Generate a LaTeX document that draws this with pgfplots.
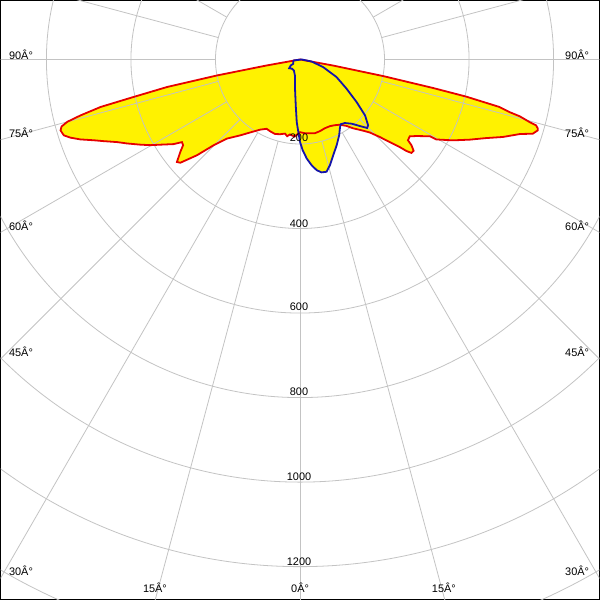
\documentclass[border=0pt]{standalone}
\usepackage{fontspec}
\setmainfont{Liberation Sans}
\usepackage{pgfplots}
\pgfplotsset{compat=1.18}
\usepackage{pgfplotstable}

\definecolor{gridc}{RGB}{195,195,195}
\definecolor{redc}{RGB}{230,0,0}
\definecolor{bluec}{RGB}{20,20,170}

% C0-C180 plane: signed gamma (negative = left), intensity in cd
\pgfplotstableread{
g cd
-90 0
-79.8 80
-79.1 200
-78.3 321
-77.3 404
-76.6 485
-75.7 536
-75.0 570
-74.3 586
-73.5 591
-72.2 587
-71.2 574
-70.0 553
-68.6 524
-67.4 503
-65.7 475
-64.1 455
-61.9 428
-60.2 408
-58.6 387
-56.2 360
-55.0 341
-53.75 343
-52.3 358
-50.2 379
-49.2 374
-47.1 333
-45.2 288
-42.75 255
-38.3 229
-33.6 206
-29.6 191
-25.7 182
-22.7 184
-18.5 186
-14.9 183
-11.4 179
-9.5 184
-7.6 179
-4.0 183
-1.3 175
0 172
3.9 175
7.7 176
11.5 178
15.6 176
19.9 173
24.2 173
27.9 176
31.5 181
35.0 192
37.5 205
41.0 222
43.7 239
45.8 263
47.4 289
48.7 314
49.3 332
50.0 344
51.2 345
52.4 333
53.2 319
55.0 317
56.7 330
59.4 357
59.6 374
62.1 409
64.7 444
67.1 478
69.1 514
71.3 550
72.3 578
73.4 587
73.8 586
74.4 580
74.75 563
75.5 537
75.9 511
76.6 485
77.4 403
77.9 322
78.7 201
79.6 80
90 0
}\redtab

% C90-C270 plane
\pgfplotstableread{
g cd
-81.5 16
-57.3 19
-57.2 26
-50.9 33
-41.7 29
-28.6 30
-17.4 40
-9.7 70
-5.3 109
-3.0 148
-1.3 172
0 195
1.7 215
3.9 235
6.3 252
8.6 265
10.8 272
13.3 273
15.8 260
19.1 240
23.1 221
27.3 202
30.6 186
32.2 181
35.2 184
38.8 195
42.0 212
44.4 227
46.0 224
49.3 203
53.0 168
57.9 130
64.25 96
71.7 58
80 28
90 4
-81.5 16
}\bluetab

\begin{document}
\begin{tikzpicture}
\begin{axis}[
  scale only axis, width=600bp, height=600bp,
  xmin=-708.4, xmax=708.4, ymin=-1277.5, ymax=139.3,
  ticks=none,
  axis line style={black, line width=1.2bp},
  clip=true,
]
\addplot[fill=yellow, draw=none, data cs=polar] table[x expr=\thisrow{g}-90, y=cd]{\redtab};
\addplot[fill=yellow, draw=none, data cs=polar] table[x expr=\thisrow{g}-90, y=cd]{\bluetab};
\pgfplotsinvokeforeach{200,400,...,1400}{
  \draw[gridc, line width=0.8bp] (axis cs:0,0) circle[radius=#1];
}
\pgfplotsinvokeforeach{0,15,...,345}{
  \draw[gridc, line width=0.8bp] (axis cs:{200*cos(#1)},{200*sin(#1)}) -- (axis cs:{1700*cos(#1)},{1700*sin(#1)});
}
\addplot[redc, line width=1.8bp, data cs=polar] table[x expr=\thisrow{g}-90, y=cd]{\redtab};
\addplot[bluec, line width=1.8bp, data cs=polar] table[x expr=\thisrow{g}-90, y=cd]{\bluetab};

\begin{scope}[every node/.style={font=\fontsize{11}{13}\selectfont, inner sep=0pt}]
\node[anchor=base west] at (rel axis cs:0.01383,0.90167) {90Â°};
\node[anchor=base west] at (rel axis cs:0.9425,0.90167) {90Â°};
\node[anchor=base west] at (rel axis cs:0.01383,0.77117) {75Â°};
\node[anchor=base west] at (rel axis cs:0.9425,0.77117) {75Â°};
\node[anchor=base west] at (rel axis cs:0.01383,0.61667) {60Â°};
\node[anchor=base west] at (rel axis cs:0.9425,0.61667) {60Â°};
\node[anchor=base west] at (rel axis cs:0.01383,0.405) {45Â°};
\node[anchor=base west] at (rel axis cs:0.9425,0.405) {45Â°};
\node[anchor=base west] at (rel axis cs:0.01383,0.04) {30Â°};
\node[anchor=base west] at (rel axis cs:0.9425,0.04) {30Â°};
\node[anchor=base west] at (rel axis cs:0.2375,0.01167) {15Â°};
\node[anchor=base west] at (rel axis cs:0.485,0.01167) {0Â°};
\node[anchor=base west] at (rel axis cs:0.72,0.01167) {15Â°};
\node[anchor=base] at (rel axis cs:0.49833,0.76417) {200};
\node[anchor=base] at (rel axis cs:0.49833,0.62167) {400};
\node[anchor=base] at (rel axis cs:0.49833,0.48167) {600};
\node[anchor=base] at (rel axis cs:0.49833,0.34) {800};
\node[anchor=base] at (rel axis cs:0.49833,0.19833) {1000};
\node[anchor=base] at (rel axis cs:0.49833,0.05667) {1200};
\end{scope}
\end{axis}
\end{tikzpicture}
\end{document}
